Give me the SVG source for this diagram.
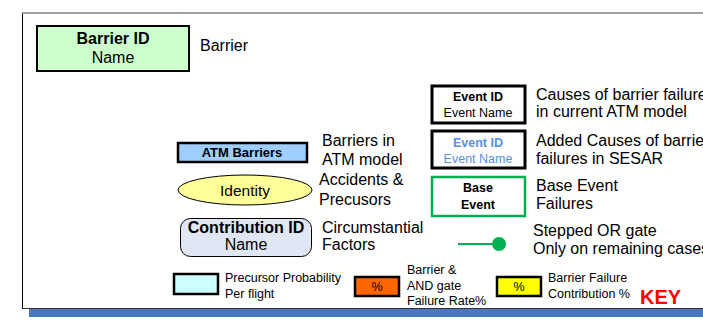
<svg xmlns="http://www.w3.org/2000/svg" width="703" height="330" viewBox="0 0 703 330">
<style>
text{font-family:"Liberation Sans",Arial,sans-serif;fill:#000}
.l{font-size:16px}
.m{font-size:12.5px}
.b{font-weight:bold}
.c{text-anchor:middle}
.blue{fill:#5b8fe0}
</style>
<rect x="0" y="0" width="703" height="330" fill="#fff"/>
<g id="frame">
<rect x="29" y="309" width="674" height="8" fill="#4a78c0"/>
<line x1="22" y1="308.5" x2="703" y2="308.5" stroke="#333" stroke-width="1"/>
<line x1="22.5" y1="13" x2="22.5" y2="308.5" stroke="#000" stroke-width="1"/>
<line x1="22" y1="13" x2="703" y2="13" stroke="#808080" stroke-width="1.5"/>
</g>
<g id="barrier">
<rect x="37" y="26" width="152" height="45" fill="#ccffcc" stroke="#000" stroke-width="2"/>
<text x="113" y="44" class="l b c">Barrier ID</text>
<text x="113" y="63" class="l c">Name</text>
<text x="200" y="51" class="l">Barrier</text>
</g>
<g id="event">
<rect x="432" y="86" width="93" height="37" fill="#fff" stroke="#000" stroke-width="3"/>
<text x="478" y="101" class="m b c">Event ID</text>
<text x="478" y="117" class="m c">Event Name</text>
<text x="536" y="100" class="l">Causes of barrier failure</text>
<text x="536" y="117" class="l">in current ATM model</text>
</g>
<g id="event-added">
<rect x="432" y="131" width="93" height="37" fill="#fff" stroke="#000" stroke-width="3"/>
<text x="478" y="147" class="m b c blue">Event ID</text>
<text x="478" y="163" class="m c blue">Event Name</text>
<text x="536" y="146" class="l">Added Causes of barrier</text>
<text x="536" y="164" class="l">failures in SESAR</text>
</g>
<g id="base-event">
<rect x="432" y="177" width="93" height="39" fill="#fff" stroke="#00b050" stroke-width="2.5"/>
<text x="478" y="192" class="m b c">Base</text>
<text x="478" y="209" class="m b c">Event</text>
<text x="536" y="191" class="l">Base Event</text>
<text x="536" y="209" class="l">Failures</text>
</g>
<g id="atm-barriers">
<rect x="178" y="143" width="129" height="19" fill="#9fcdfc" stroke="#000" stroke-width="2.5"/>
<text x="242" y="157" class="b c" style="font-size:13px">ATM Barriers</text>
<text x="322" y="146" class="l">Barriers in</text>
<text x="322" y="165" class="l">ATM model</text>
</g>
<g id="identity">
<ellipse cx="245" cy="190" rx="67" ry="15" fill="#ffff99" stroke="#000" stroke-width="1"/>
<text x="245" y="196" class="c" style="font-size:15.5px">Identity</text>
<text x="319" y="185" class="l">Accidents &amp;</text>
<text x="319" y="205" class="l">Precusors</text>
</g>
<g id="contribution">
<rect x="180.5" y="218.5" width="131" height="38" rx="10" fill="#dfe6f4" stroke="#000" stroke-width="1"/>
<text x="246" y="233" class="l b c">Contribution ID</text>
<text x="246" y="250" class="l c">Name</text>
<text x="322" y="233" class="l">Circumstantial</text>
<text x="322" y="250" class="l">Factors</text>
</g>
<g id="connectors">
<line x1="458" y1="244" x2="499" y2="244" stroke="#00b050" stroke-width="2"/>
<circle cx="499" cy="244" r="7" fill="#00b050"/>
</g>
<g id="stepped-or">
<text x="533" y="236" class="l">Stepped OR gate</text>
<text x="533" y="254" class="l">Only on remaining cases</text>
</g>
<g id="precursor">
<rect x="174" y="274" width="44" height="20" fill="#ccffff" stroke="#000" stroke-width="2.5"/>
<text x="225" y="282" class="m">Precursor Probability</text>
<text x="225" y="298" class="m">Per flight</text>
</g>
<g id="failure-rate">
<rect x="355" y="277" width="44" height="19" fill="#ff6600" stroke="#000" stroke-width="2.5"/>
<text x="377" y="291" class="m c">%</text>
<text x="407" y="274" class="m">Barrier &amp;</text>
<text x="407" y="290" class="m">AND gate</text>
<text x="407" y="305" class="m">Failure Rate%</text>
</g>
<g id="failure-contribution">
<rect x="497" y="277" width="44" height="19" fill="#ffff00" stroke="#000" stroke-width="2.5"/>
<text x="519" y="291" class="m c">%</text>
<text x="548" y="282" class="m">Barrier Failure</text>
<text x="548" y="298" class="m">Contribution %</text>
</g>
<g id="key">
<text x="640" y="304" class="b" style="font-size:20px;fill:#ff0000">KEY</text>
</g>
</svg>
